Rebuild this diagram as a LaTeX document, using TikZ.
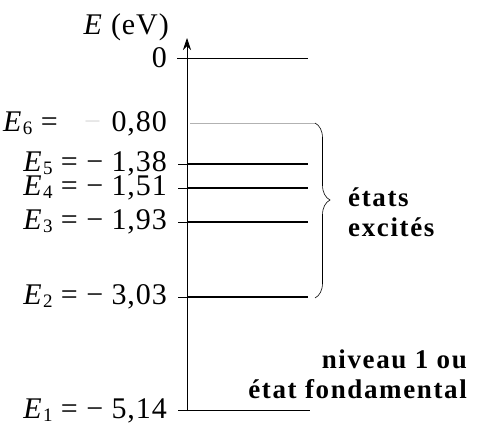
\documentclass[tikz,border=0pt]{standalone}
\usepackage{fontspec}
\setmainfont{Liberation Serif}
\usetikzlibrary{decorations.pathreplacing,arrows.meta}
\tikzset{
  lab/.style={anchor=east,inner sep=0pt,font=\fontsize{30}{32}\selectfont\addfontfeatures{LetterSpace=3}},
  txt/.style={inner sep=0pt,font=\fontsize{27}{30}\selectfont\bfseries\addfontfeatures{LetterSpace=6}},
  lvl/.style={line width=1.8pt},
  thinlvl/.style={line width=0.7pt},
  tick/.style={line width=0.6pt}
}
\newcommand{\En}[1]{\textit{E}\kern0.5pt\raisebox{-0.2ex}{\fontsize{19}{19}\selectfont #1}}
\begin{document}
\begin{tikzpicture}[x=1pt,y=-1pt]
\useasboundingbox (0,0) rectangle (480,428);
% axis
\coordinate (ab) at (187,411);
\coordinate (at) at (187,38);
\draw[line width=0.7pt,-{Stealth[length=12pt,width=8pt]}] (ab) -- (at);
\node[lab,anchor=base east] (ax) at (169,35) {\textit{E} (eV)};
% level 0
\node[lab] (l0) at (167,58) {0};
\coordinate (t0) at (177,58);
\coordinate (z0) at (308,58);
\draw[thinlvl] (t0) -- (z0);
% E6
\node[lab] (l6) at (167,124) {\En{6} = \hspace{0.6em}{\color{black!12}−}\hspace{0.35em}0,80};
\coordinate (a6) at (190,123);
\coordinate (z6) at (315,123);
\draw[thinlvl,black!30] (a6) -- (z6);
% E5..E2
\foreach \n/\a/\b/\y in {5/1/38/164, 4/1/51/188, 3/1/93/222, 2/3/03/297}{
  \node[lab] (l\n) at (167,\y) {\En{\n} = − \a,\b};
  \coordinate (s\n) at (178,\y);
  \coordinate (m\n) at (187,\y);
  \coordinate (e\n) at (308,\y);
  \draw[tick] (s\n) -- (m\n);
  \draw[lvl] (m\n) -- (e\n);
}
% E1
\node[lab] (l1) at (167,411) {\En{1} = − 5,14};
\coordinate (s1) at (178,410);
\coordinate (e1) at (310,410);
\draw[thinlvl] (s1) -- (e1);
% brace
\coordinate (bt) at (315,123);
\coordinate (bb) at (315,298);
\draw[line width=0.6pt,decorate,decoration={brace,amplitude=15pt,aspect=0.44}] (bt) -- (bb);
\node[txt,anchor=west,align=left] (exc) at (348,212) {états\\excités};
\node[txt,anchor=east,align=right] (fond) at (467,374) {niveau 1 ou\\état fondamental};
\end{tikzpicture}
\end{document}
